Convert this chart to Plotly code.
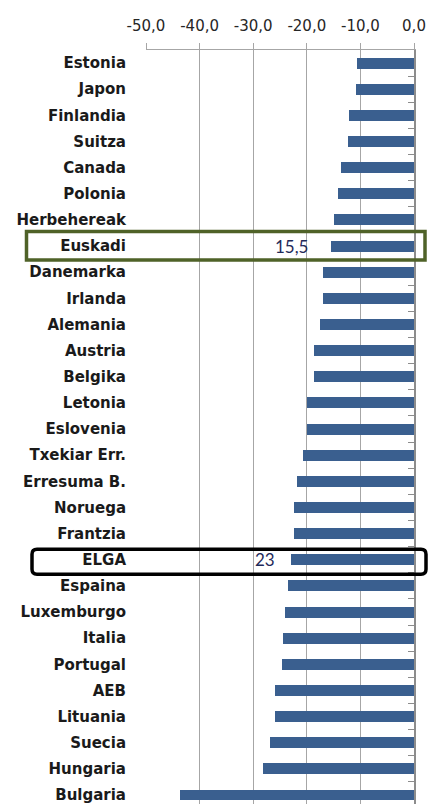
import plotly.graph_objects as go

categories = ["Estonia", "Japon", "Finlandia", "Suitza", "Canada", "Polonia", "Herbehereak",
              "Euskadi", "Danemarka", "Irlanda", "Alemania", "Austria", "Belgika", "Letonia",
              "Eslovenia", "Txekiar Err.", "Erresuma B.", "Noruega", "Frantzia", "ELGA",
              "Espaina", "Luxemburgo", "Italia", "Portugal", "AEB", "Lituania", "Suecia",
              "Hungaria", "Bulgaria"]
values = [-10.6, -10.9, -12.1, -12.4, -13.6, -14.2, -14.9, -15.5, -16.9, -16.9, -17.5,
          -18.7, -18.7, -20.0, -20.0, -20.8, -21.8, -22.3, -22.3, -23.0, -23.5, -24.1,
          -24.4, -24.7, -25.9, -25.9, -26.9, -28.1, -43.6]
x_tickvals = [-50, -40, -30, -20, -10, 0]
x_ticktext = ["-50,0", "-40,0", "-30,0", "-20,0", "-10,0", "0,0"]
highlight_euskadi = ("Euskadi", "15,5")
highlight_elga = ("ELGA", "23")

# layout geometry (page body margin removed via post_script)
OFF = 0
W, H = 430, 804
L, R, T, B = 146, 16, 50, 0
plot_w = W - L - R
plot_h = H - T - B
row_px = 26.14
y_top = -0.5
y_bot = y_top + plot_h / row_px

def idx_to_paper(v):
    return (y_bot - v) / (y_bot - y_top)

def px_to_paper_x(px):
    return (px - OFF - L) / plot_w

GRID = "#A6A6A6"
BAR = "#3A5F8F"

fig = go.Figure()
fig.add_trace(go.Bar(
    x=values, y=categories, orientation="h", width=0.42,
    marker=dict(color=BAR, line=dict(width=0)),
    showlegend=False, hoverinfo="x+y",
))
# helper trace for the right-side (zero) axis with boundary ticks
fig.add_trace(go.Scatter(
    x=[0] * len(categories), y=categories, yaxis="y2", mode="markers",
    marker=dict(opacity=0, size=1), showlegend=False, hoverinfo="skip",
))

ylayout = dict(type="category", categoryorder="array", categoryarray=categories,
               range=[y_bot, y_top])

fig.update_layout(
    width=W, height=H,
    margin=dict(l=L, r=R, t=T, b=B, pad=0),
    paper_bgcolor="white", plot_bgcolor="white",
    bargap=0,
    xaxis=dict(
        side="top", range=[-50, 0], tickvals=x_tickvals, ticktext=x_ticktext,
        showgrid=True, gridcolor=GRID, gridwidth=1, zeroline=False,
        showline=True, linecolor=GRID, linewidth=1,
        ticks="outside", ticklen=6, tickcolor=GRID, tickwidth=1,
        tickfont=dict(family="DejaVu Sans", size=15, color="#262626"),
        ticklabelstandoff=6,
    ),
    yaxis=dict(
        **ylayout, showgrid=False, showline=False, ticks="", zeroline=False,
        tickfont=dict(family="DejaVu Sans", size=15, color="#1a1a1a", weight="bold"),
        ticklabelstandoff=19,
    ),
    yaxis2=dict(
        **ylayout, overlaying="y", side="right", showgrid=False, zeroline=False,
        showline=True, linecolor="#8C8C8C", linewidth=1.5,
        ticks="inside", tickson="boundaries", ticklen=6, tickcolor="#8C8C8C",
        showticklabels=False,
    ),
)

def rounded_rect(x0, x1, y0, y1, r_px):
    rx = r_px / plot_w
    ry = r_px / plot_h
    return (f"M {x0+rx},{y1} L {x1-rx},{y1} Q {x1},{y1} {x1},{y1-ry} "
            f"L {x1},{y0+ry} Q {x1},{y0} {x1-rx},{y0} "
            f"L {x0+rx},{y0} Q {x0},{y0} {x0},{y0+ry} "
            f"L {x0},{y1-ry} Q {x0},{y1} {x0+rx},{y1} Z")

# Euskadi highlight box (green)
ie = categories.index(highlight_euskadi[0])
fig.add_shape(type="rect", xref="paper", yref="paper",
              x0=px_to_paper_x(26.5), x1=px_to_paper_x(425),
              y0=idx_to_paper(ie + 0.53), y1=idx_to_paper(ie - 0.56),
              line=dict(color="#4F6228", width=3.5), layer="above")
# ELGA highlight box (black, rounded)
ig = categories.index(highlight_elga[0])
fig.add_shape(type="path", xref="paper", yref="paper",
              path=rounded_rect(px_to_paper_x(32), px_to_paper_x(426),
                                idx_to_paper(ig + 0.56), idx_to_paper(ig - 0.4), 5),
              line=dict(color="#000000", width=3.5), layer="above")

fig.add_annotation(x=-19.4, y=highlight_euskadi[0], xref="x", yref="y",
                   text=highlight_euskadi[1], showarrow=False, xanchor="right",
                   font=dict(family="Lato", size=17, color="#1F2A5A"))
fig.add_annotation(x=-30.0, y=highlight_elga[0], xref="x", yref="y",
                   text=highlight_elga[1], showarrow=False, xanchor="left",
                   font=dict(family="Lato", size=17, color="#1F2A5A"))

fig.write_html(
    "out.html",
    config={"displayModeBar": False},
    post_script="document.body.style.margin='0';document.body.style.overflow='hidden';",
)
